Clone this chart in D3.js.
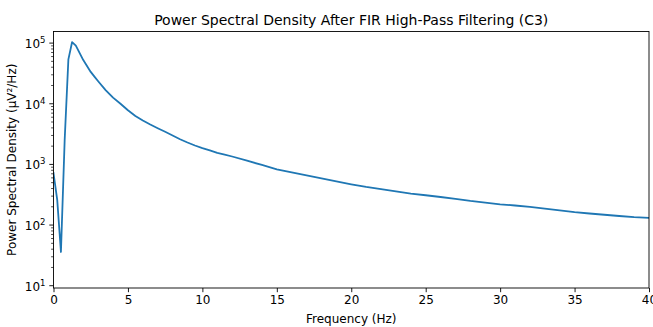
<!DOCTYPE html>
<html>
<head>
<meta charset="utf-8">
<script src="https://cdn.jsdelivr.net/npm/d3@7"></script>
<style>
  body { margin: 0; background: #fff; }
  text { font-family: "DejaVu Sans", sans-serif; fill: #000; }
</style>
</head>
<body>
<div id="chart"></div>
<script>
// frequency bins (Hz) and PSD values (uV^2/Hz)
var freqs = [0, 0.25, 0.5, 0.75, 1, 1.25, 1.5, 1.75, 2, 2.5, 2.75, 3, 3.5, 4, 4.5, 5, 5.5, 6, 6.5, 7, 7.5, 8, 8.5, 9, 9.5,
             10, 10.5, 11, 11.5, 12, 13, 14, 15, 16, 17, 18, 19, 20, 21, 22, 23, 24, 25, 26, 27, 28, 29, 30,
             31, 32, 33, 34, 35, 36, 37, 38, 39, 40];
var psd = [720, 260, 36, 2500, 54000, 104000, 91000, 69000, 52500, 33500, 28000, 23500, 16800, 12600, 10000, 7800, 6300, 5300, 4550, 3950, 3450, 3000, 2600, 2300, 2050,
           1850, 1700, 1550, 1450, 1350, 1150, 980, 830, 740, 660, 590, 525, 470, 425, 390, 360, 330, 310, 290, 270, 250, 235, 220,
           210, 200, 187, 175, 163, 155, 148, 141, 135, 131];
var xTicks = [0, 5, 10, 15, 20, 25, 30, 35, 40];
var yTickExps = [1, 2, 3, 4, 5];

var titleText = "Power Spectral Density After FIR High-Pass Filtering (C3)";
var xLabel = "Frequency (Hz)";
var yLabel = "Power Spectral Density (\u03bcV\u00b2/Hz)";

const W = 653, H = 327;
const plot = { left: 53.5, right: 649, top: 31.5, bottom: 288 };

var svg = d3.select("#chart").append("svg")
    .attr("width", W)
    .attr("height", H);

var x = d3.scaleLinear().domain([0, 40]).range([plot.left, plot.right]);
var y = d3.scaleLog().domain([9.17, 155300]).range([plot.bottom, plot.top]);

// line
var line = d3.line()
    .x(function(d, i) { return x(freqs[i]); })
    .y(function(d) { return y(d); });

svg.append("defs").append("clipPath").attr("id", "clip")
    .append("rect").attr("x", plot.left).attr("y", plot.top)
    .attr("width", plot.right - plot.left).attr("height", plot.bottom - plot.top);

svg.append("path")
    .datum(psd)
    .attr("clip-path", "url(#clip)")
    .attr("fill", "none")
    .attr("stroke", "#1f77b4")
    .attr("stroke-width", 1.8)
    .attr("stroke-linejoin", "round")
    .attr("stroke-linecap", "square")
    .attr("d", line);

// x axis
var xAxis = svg.append("g")
    .attr("transform", "translate(0," + plot.bottom + ")")
    .call(d3.axisBottom(x).tickValues(xTicks).tickSize(4.2).tickPadding(3.5).tickFormat(d3.format("d")));
xAxis.select(".domain").remove();
xAxis.selectAll("text").attr("font-size", 12).attr("font-family", "DejaVu Sans").attr("fill", "#000");
xAxis.selectAll("line").attr("stroke", "#000").attr("stroke-width", 0.9);

// y axis: major ticks with 10^n labels, minor ticks between
var minor = [];
for (var e = 0; e <= 5; e++) {
    for (var m = 2; m <= 9; m++) {
        var v = m * Math.pow(10, e);
        if (v > 9.17 && v < 155300) minor.push(v);
    }
}
var yg = svg.append("g");
yg.selectAll(".minor").data(minor).enter().append("line")
    .attr("x1", plot.left - 2.4).attr("x2", plot.left)
    .attr("y1", function(d) { return y(d); })
    .attr("y2", function(d) { return y(d); })
    .attr("stroke", "#000").attr("stroke-width", 0.7);
yg.selectAll(".major").data(yTickExps).enter().append("line")
    .attr("x1", plot.left - 4.2).attr("x2", plot.left)
    .attr("y1", function(d) { return y(Math.pow(10, d)); })
    .attr("y2", function(d) { return y(Math.pow(10, d)); })
    .attr("stroke", "#000").attr("stroke-width", 0.9);
var lbl = yg.selectAll(".lbl").data(yTickExps).enter().append("text")
    .attr("x", plot.left - 8)
    .attr("y", function(d) { return y(Math.pow(10, d)) + 5; })
    .attr("text-anchor", "end")
    .attr("font-size", 12);
lbl.append("tspan").text("10");
lbl.append("tspan").attr("dy", -5).attr("font-size", 8.5)
    .text(function(d) { return d; });

// frame
svg.append("rect")
    .attr("x", plot.left).attr("y", plot.top)
    .attr("width", plot.right - plot.left).attr("height", plot.bottom - plot.top)
    .attr("fill", "none").attr("stroke", "#000").attr("stroke-width", 0.9);

// texts
svg.append("text")
    .attr("x", (plot.left + plot.right) / 2).attr("y", 24.5)
    .attr("text-anchor", "middle").attr("font-size", 14)
    .text(titleText);
svg.append("text")
    .attr("x", (plot.left + plot.right) / 2).attr("y", 323)
    .attr("text-anchor", "middle").attr("font-size", 12)
    .text(xLabel);
svg.append("text")
    .attr("transform", "translate(16," + (plot.top + plot.bottom) / 2 + ") rotate(-90)")
    .attr("text-anchor", "middle").attr("font-size", 12)
    .text(yLabel);
</script>
</body>
</html>
